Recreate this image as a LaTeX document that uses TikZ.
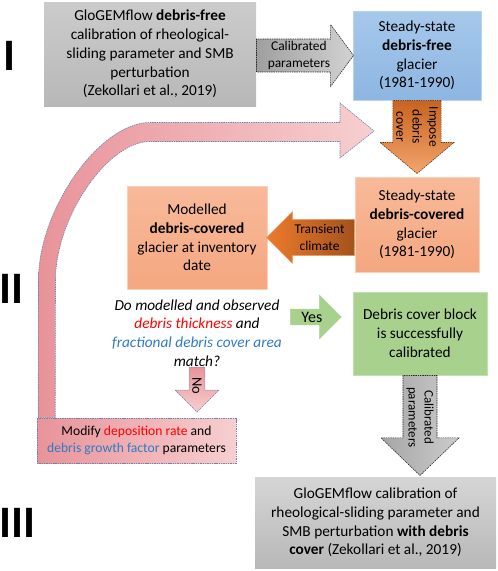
\documentclass[tikz,border=0pt]{standalone}
\usepackage{fontspec}
\setmainfont{Carlito}
\usetikzlibrary{shapes.arrows,positioning,calc,backgrounds}
\definecolor{boxgray}{HTML}{CBCBCB}
\definecolor{boxgraydark}{HTML}{B8B8B8}
\definecolor{boxblue}{HTML}{A6C8EB}
\definecolor{boxbluedark}{HTML}{8DB6E2}
\definecolor{boxorange}{HTML}{F8BA9A}
\definecolor{boxorangedark}{HTML}{F4A77F}
\definecolor{boxgreen}{HTML}{A9D18E}
\definecolor{arrowbrown}{HTML}{C8631F}
\definecolor{arrowlight}{HTML}{F3A56C}
\definecolor{arrowbright}{HTML}{EC7B2C}
\definecolor{arrowdark}{HTML}{A3521C}
\definecolor{loopdark}{HTML}{E8939A}
\definecolor{looplight}{HTML}{F7CFD0}
\definecolor{dashblue}{HTML}{6D84A6}
\definecolor{textred}{HTML}{FF0000}
\definecolor{textblue}{HTML}{2F7BC4}
\begin{document}
\begin{tikzpicture}[x=1pt,y=-1pt,
  main node/.style={align=center,inner sep=0pt,font=\fontsize{15.3}{18.8}\selectfont},
  stage/.style={inner sep=0pt,font=\fontsize{45}{45}\selectfont\bfseries},
  dotted border/.style={draw=dashblue,line width=0.6pt,dash pattern=on 1.4pt off 0.9pt},
  flow arrow/.style={single arrow,align=center,inner xsep=0.5pt,inner ysep=0.5pt,
    font=\fontsize{13.4}{16.5}\selectfont,line width=0.6pt,dash pattern=on 1.4pt off 0.9pt}]
\useasboundingbox (0,0) rectangle (498,571);

% stages
\node[stage] (s1) at (9.5,56) {I};
\node[stage] (s2) at (11.5,289) {II};
\node[stage] (s3) at (17.5,523) {III};

% blocks
\node[main node,top color=boxgray,bottom color=boxgraydark,minimum width=212pt,minimum height=104pt] (glo) at (150,54)
  {GloGEMflow \textbf{debris-free}\\ calibration of rheological-\\ sliding parameter and SMB\\ perturbation\\ (Zekollari et al., 2019)};
\node[main node,draw=boxblue!80,top color=boxblue,bottom color=boxbluedark,minimum width=128pt,minimum height=89pt] (free) at (417,55.5)
  {Steady-state\\ \textbf{debris-free}\\ glacier\\ (1981-1990)};
\node[main node,draw=boxorange!70,top color=boxorange,bottom color=boxorangedark,minimum width=124pt,minimum height=95pt] (covered) at (417,224.5)
  {Steady-state\\ \textbf{debris-covered}\\ glacier\\ (1981-1990)};
\node[main node,draw=boxorange!70,top color=boxorange,bottom color=boxorangedark,minimum width=140pt,minimum height=103pt] (modelled) at (197,237.5)
  {Modelled\\ \textbf{debris-covered}\\ glacier at inventory\\ date};
\node[main node,font=\fontsize{15.3}{18.8}\selectfont\itshape] (question) at (197,333)
  {Do modelled and observed\\ \textcolor{textred}{debris thickness} and\\ \textcolor{textblue}{fractional debris cover area}\\ match?};
\node[main node,draw=boxgreen!70,fill=boxgreen,minimum width=134pt,minimum height=83pt] (calib) at (420,333.5)
  {Debris cover block\\ is successfully\\ calibrated};
\node[main node,dotted border,left color=loopdark,right color=looplight,minimum width=199pt,minimum height=45pt,font=\fontsize{13.6}{17}\selectfont] (modify) at (136.5,440.5)
  {Modify \textcolor{textred}{deposition rate} and\\ \textcolor{textblue}{debris growth factor} parameters};
\node[main node,top color=boxgray!80,bottom color=boxgraydark,minimum width=241pt,minimum height=91pt] (final) at (375.5,522.5)
  {GloGEMflow calibration of\\ rheological-sliding parameter and\\ SMB perturbation \textbf{with debris}\\ \textbf{cover} (Zekollari et al., 2019)};

% block arrows
\node[flow arrow,draw=gray!30!black,left color=gray!75,right color=gray!35,anchor=tail,minimum height=97pt,minimum width=62pt,
  single arrow head extend=13pt,single arrow tip angle=107] (cal1) at (glo.east |- free.west) {Calibrated\\ parameters};
\node[flow arrow,draw=arrowdark!70!black,top color=arrowbrown,bottom color=arrowlight,rotate=-90,anchor=tail,minimum height=73pt,minimum width=74pt,
  single arrow head extend=11.5pt,single arrow tip angle=100] (impose) at (free.south) {Impose\\ debris\\ cover};
\node[flow arrow,draw=arrowlight,left color=arrowbright,right color=arrowdark,shape border rotate=180,anchor=tail,minimum height=88pt,minimum width=52pt,
  single arrow head extend=6pt,single arrow tip angle=90] (transient) at (covered.west |- modelled.east) {Transient\\ climate};
\node[flow arrow,draw=boxgreen,fill=boxgreen,anchor=tail,minimum height=51pt,minimum width=44pt,font=\fontsize{16}{18}\selectfont,
  single arrow head extend=11pt,single arrow tip angle=90] (yes) at (290,317) {Yes};
\node[flow arrow,draw=dashblue,top color=loopdark,bottom color=looplight,rotate=-90,anchor=tail,minimum height=45pt,minimum width=44pt,font=\fontsize{14.5}{17}\selectfont,
  single arrow head extend=10pt,single arrow tip angle=90] (no) at (question.south) {No};
\node[flow arrow,draw=gray!30!black,left color=gray!70,right color=gray!40,rotate=-90,anchor=tail,minimum height=100pt,minimum width=78pt,font=\fontsize{13}{16}\selectfont,
  single arrow head extend=18.5pt,single arrow tip angle=92] (cal2) at (calib.south) {Calibrated\\ parameters};

% feedback loop
\coordinate (loophead) at (374,131);
\begin{pgfonlayer}{background}
\path[dotted border,left color=loopdark,right color=looplight]
  ($(modify.north west)+(1.5,0)$) -- (38.5,280)
  .. controls (38.5,209) and (99.8,122.5) .. (150,122.5) -- (340,122.5) -- (340,103) -- (loophead)
  -- (340,158) -- (340,141.5) -- (150,141.5)
  .. controls (107.5,141.5) and (55.5,217.7) .. (55.5,280) -- ($(modify.north west)+(18.5,0)$) -- cycle;
\end{pgfonlayer}
\end{tikzpicture}
\end{document}
